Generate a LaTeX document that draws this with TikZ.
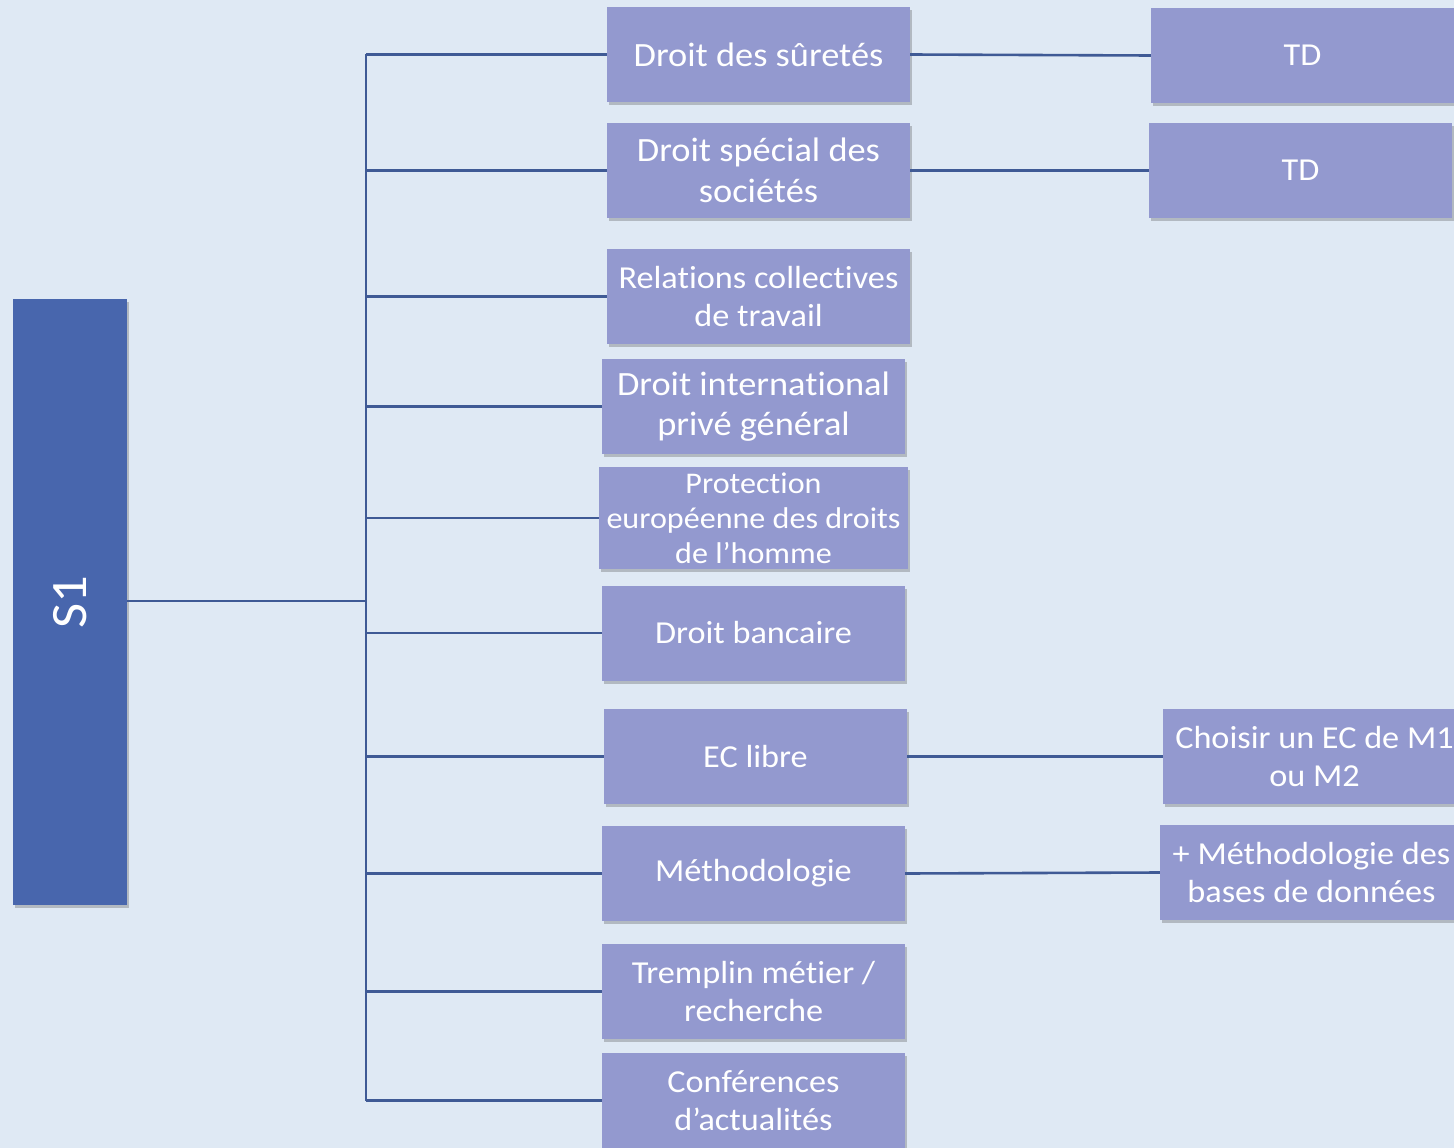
\documentclass[tikz,border=0pt]{standalone}
\usepackage{fontspec}
\setmainfont{Carlito}[FakeStretch=1.07, Ligatures=NoCommon]
\usetikzlibrary{shadows}
\definecolor{bg}{HTML}{DFE9F4}
\definecolor{boxc}{HTML}{9399CF}
\definecolor{s1c}{HTML}{4866AD}
\definecolor{linec}{HTML}{3F5A95}
\begin{document}
\begin{tikzpicture}[x=1pt,y=-1pt,
  box/.style={rectangle, fill=boxc, text=white, align=center, inner sep=0pt,
    minimum width=303pt, minimum height=95pt,
    drop shadow={opacity=0.3, shadow xshift=2pt, shadow yshift=-3pt, fill=black!70}},
  fa/.style={font=\fontsize{32}{38}\selectfont},
  fd/.style={font=\fontsize{34}{40.5}\selectfont},
  fc/.style={font=\fontsize{30}{35}\selectfont},
  s1box/.style={rectangle, fill=s1c, inner sep=0pt, minimum width=114pt, minimum height=606pt,
    drop shadow={opacity=0.3, shadow xshift=2pt, shadow yshift=-3pt, fill=black!70}},
  conn/.style={draw=linec, line width=2.6pt}]
\fill[bg] (0,0) rectangle (1454,1148);
\useasboundingbox (0,0) rectangle (1454,1148);
\clip (0,0) rectangle (1454,1148);

% root
\node[s1box] (s1) at (70,602) {};
\node[rotate=90, text=white, font=\fontsize{51}{56}\selectfont] (s1t) at (s1.center) {S1};

% left column
\node[box, fd] (n1) at (758.5,54.5) {Droit des sûretés};
\node[box, fd] (n2) at (758.5,170.5) {Droit spécial des\\sociétés};
\node[box, fa] (n3) at (758.5,296.5) {Relations collectives\\de travail};
\node[box, fd] (n4) at (753.5,406.5) {Droit international\\privé général};
\node[box, fc, minimum width=309pt, minimum height=102pt] (n5) at (753.5,518) {Protection\\européenne des droits\\de l’homme};
\node[box, fa] (n6) at (753.5,633) {Droit bancaire};
\node[box, fa] (n7) at (755.5,756.5) {EC libre};
\node[box, fa] (n8) at (753.5,873.5) {Méthodologie};
\node[box, fa] (n9) at (753.5,991.5) {Tremplin métier /\\recherche};
\node[box, fa] (n10) at (753.5,1100.5) {Conférences\\d’actualités};

% right column
\node[box, fa] (r1) at (1302.5,55.5) {TD};
\node[box, fa] (r2) at (1300.5,170.5) {TD};
\node[box, fa] (r3) at (1314.5,756.5) {Choisir un EC de M1\\ou M2};
\node[box, fa] (r4) at (1311.5,872.5) {+ Méthodologie des\\bases de données};

% connectors
\coordinate (trunk) at (366,601);
\draw[conn] (s1.east |- trunk) -- (trunk);
\draw[conn] (n1.west -| trunk) -- (n10.west -| trunk);
\foreach \n in {n1,n2,n3,n4,n5,n6,n7,n8,n9,n10}
  \draw[conn] (\n.west) -- (\n.west -| trunk);
\draw[conn] (n1.east) -- (r1.west);
\draw[conn] (n2.east) -- (r2.west);
\draw[conn] (n7.east) -- (r3.west);
\draw[conn] (n8.east) -- (r4.west);
\end{tikzpicture}
\end{document}
